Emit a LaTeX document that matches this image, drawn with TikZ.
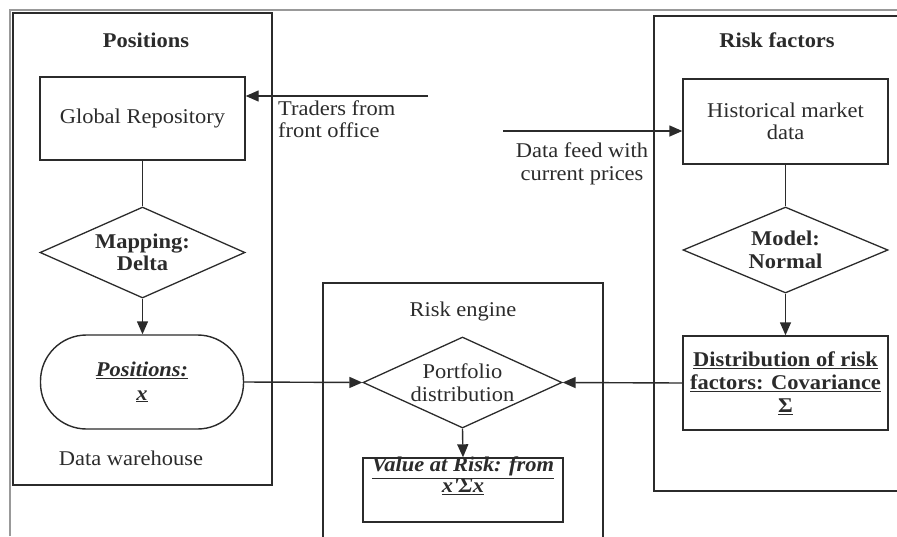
\documentclass[tikz,border=0pt]{standalone}
\usepackage{fontspec}
\setmainfont{Liberation Serif}[FakeStretch=1.07]
\usetikzlibrary{shapes.geometric,arrows.meta}
\definecolor{ink}{gray}{0.17}
\definecolor{pageline}{gray}{0.6}
\begin{document}
\begin{tikzpicture}[x=1pt,y=-1pt,
  font=\fontsize{21}{22.5}\selectfont,
  box/.style={draw=ink, line width=1.4pt, rectangle, inner sep=0pt, align=center, text=ink},
  dia/.style={draw=ink, line width=1.3pt, diamond, inner sep=0pt},
  link/.style={draw=ink, line width=1.4pt},
  arr/.style={link, -{Triangle[length=13pt,width=11pt]}},
  frame/.style={draw=ink, line width=1.6pt},
  lbl/.style={text=ink, align=center, inner sep=0pt},
  ttl/.style={lbl, font=\fontsize{21}{22.5}\selectfont\bfseries}]
\useasboundingbox (0,0) rectangle (897,536);
\clip (0,0) rectangle (897,536);

% page edge
\draw[pageline, line width=1.3pt] (10,536) -- (10,10) -- (897,10);

% ---------- Positions ----------
\node[box, line width=1.7pt, minimum width=259pt, minimum height=472pt] (posframe) at (142.5,249) {};
\node[ttl] (postitle) at (146,40) {Positions};
\node[box, minimum width=205pt, minimum height=83pt] (grepo) at (142.5,118.5) {Global Repository};
\node[dia, minimum width=205pt, minimum height=91pt] (mapping) at (142.5,252.5) {};
\node[lbl, font=\fontsize{21}{22.5}\selectfont\bfseries] (mappingtxt) at (mapping.center) {Mapping:\\Delta};
\node[box, rounded corners=46pt, minimum width=203pt, minimum height=94pt,
      font=\fontsize{21}{24}\selectfont\bfseries\itshape] (posx) at (142,382)
      {\underline{Positions:}\\\underline{x}};
\node[lbl] (dwh) at (131,458) {Data warehouse};

% ---------- Risk engine ----------
\draw[frame, line width=1.4pt] (323,545) -- (323,283) coordinate (engNW) -- (603,283) coordinate (engNE) -- (603,545);
\node[lbl] (engtitle) at (463,311) {Risk engine};
\node[dia, minimum width=199pt, minimum height=91pt] (portf) at (462.5,382.5) {};
\node[lbl] (portftxt) at (portf.center) {Portfolio\\distribution};
\node[box, minimum width=200pt, minimum height=64pt] (var) at (463,490) {};
\node[lbl, anchor=north, font=\fontsize{21}{21}\selectfont\bfseries\itshape] (vartxt) at (463,457)
      {\underline{Value at Risk: from}\\\underline{x\textquotesingle Σx}};

% ---------- Risk factors ----------
\draw[frame] (905,16) -- (654,16) coordinate (rfNW) -- (654,491) -- (905,491);
\node[ttl] (rftitle) at (777,40) {Risk factors};
\node[box, minimum width=205pt, minimum height=85pt] (hist) at (785.5,121.5) {Historical market\\data};
\node[dia, minimum width=205pt, minimum height=86pt] (model) at (785.5,250) {};
\node[lbl, font=\fontsize{21}{22.5}\selectfont\bfseries] (modeltxt) at (model.center) {Model:\\Normal};
\node[box, minimum width=205pt, minimum height=94pt, font=\fontsize{21}{23}\selectfont\bfseries] (distr) at (785.5,383)
      {\underline{Distribution of risk}\\\underline{factors: Covariance}\\\underline{Σ}};

% ---------- incoming feeds ----------
\coordinate (trstart) at (428,96);
\coordinate (dfstart) at (503,131);
\node[lbl, align=left, anchor=west] (trtxt) at (278,119) {Traders from\\front office};
\node[lbl] (dftxt) at (582,164) {Data feed with\\current prices};

% ---------- connectors ----------
\draw[link] (grepo.south) -- (mapping.north);
\draw[arr] (mapping.south) -- (mapping.south |- posx.north);
\draw[arr] (posx.east) -- (portf.west);
\draw[arr] (distr.west) -- (portf.east);
\draw[arr] (portf.south) -- (var.north);
\draw[link] (hist.south) -- (model.north);
\draw[arr] (model.south) -- (distr.north);
\draw[arr] (trstart) -- (trstart -| grepo.east);
\draw[arr] (dfstart) -- (dfstart -| hist.west);
\end{tikzpicture}
\end{document}
